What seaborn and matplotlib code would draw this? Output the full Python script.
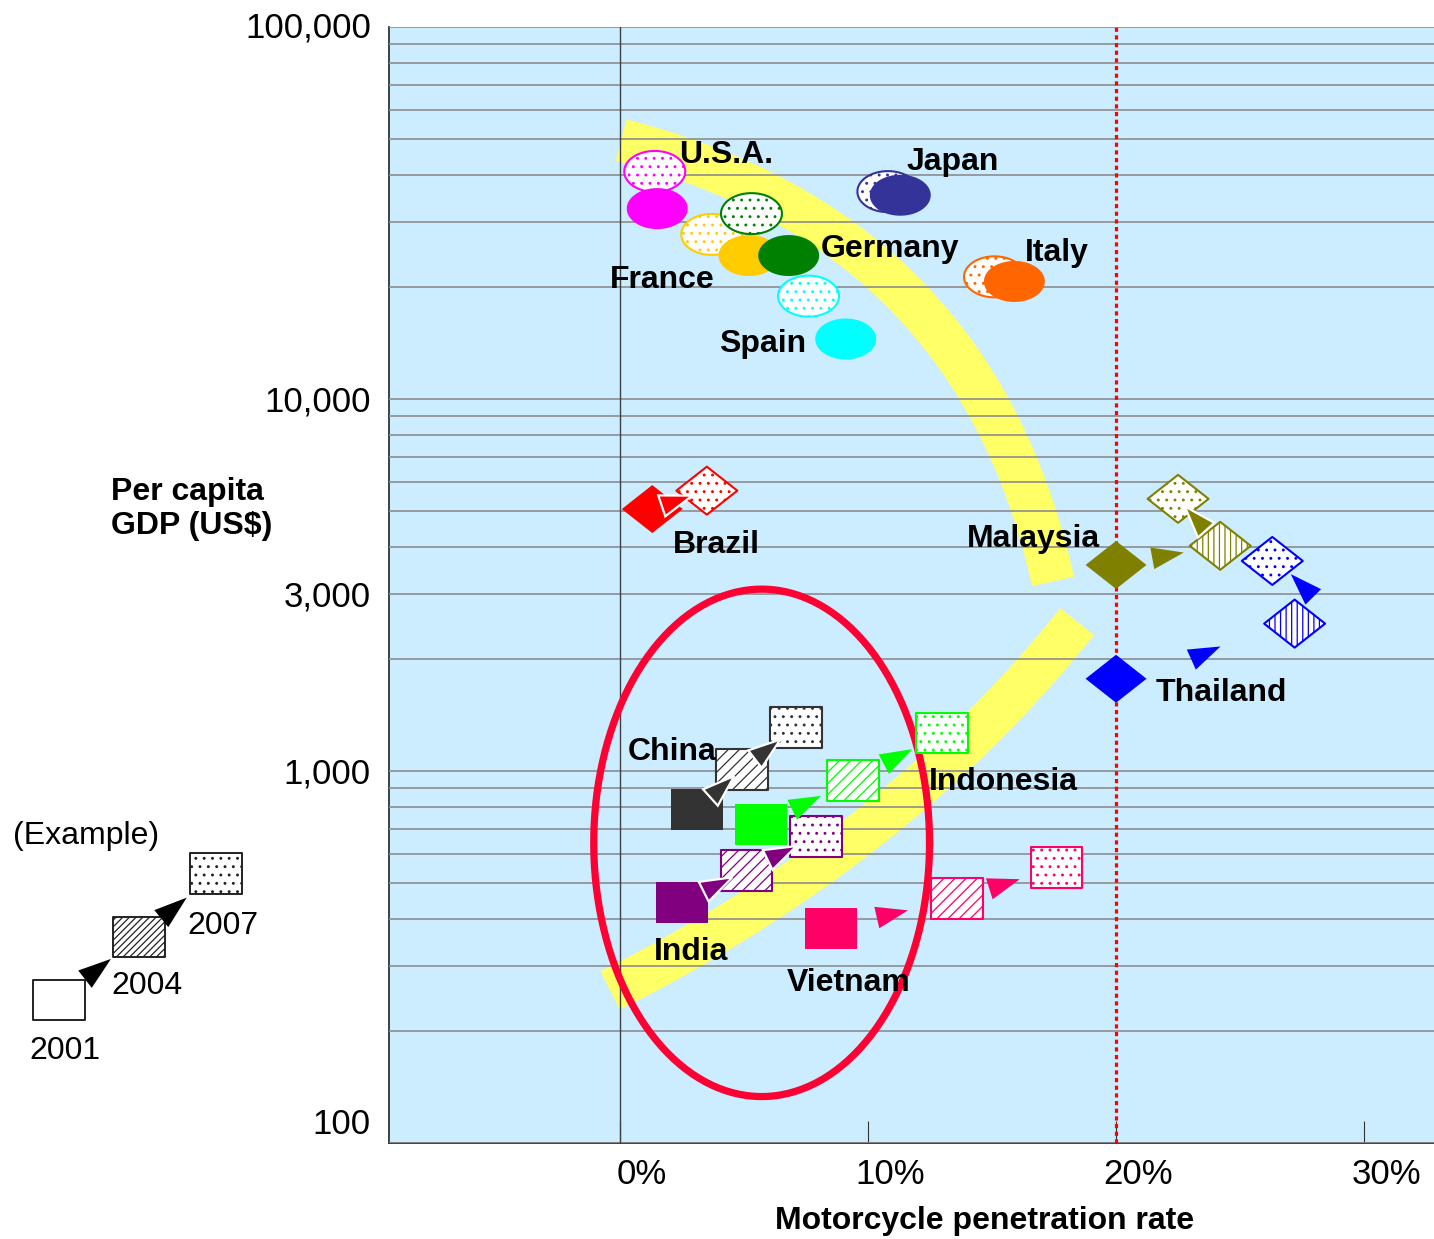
import numpy as np
import pandas as pd
import matplotlib
matplotlib.use("Agg")
import matplotlib.pyplot as plt
import matplotlib.ticker as mticker
import matplotlib.transforms as mtransforms
from matplotlib.path import Path
from matplotlib.patches import Polygon
import seaborn as sns

nan = np.nan

# ---------------- data ----------------
countries = ["U.S.A.", "France", "Germany", "Spain", "Japan", "Italy",
             "Brazil", "Malaysia", "Thailand",
             "China", "Indonesia", "India", "Vietnam"]
# motorcycle penetration rate (%)
pen_2001 = [1.5, 5.2, 6.8, 9.1, 11.3, 15.9, 1.3, 20.0, 20.0, 3.1, 5.7, 2.5, 8.5]
pen_2004 = [nan, nan, nan, nan, nan, nan, nan, 24.2, 27.2, 4.9, 9.4, 5.1, 13.6]
pen_2007 = [1.4, 3.7, 5.3, 7.6, 10.8, 15.1, 3.5, 22.5, 26.3, 7.1, 13.0, 7.9, 17.6]
# per capita GDP (US$)
gdp_2001 = [32500, 24300, 24300, 14500, 35300, 20700, 5060, 3580, 1770, 787, 718, 443, 378]
gdp_2004 = [nan, nan, nan, nan, nan, nan, nan, 4030, 2490, 1010, 943, 541, 453]
gdp_2007 = [40900, 27700, 31500, 18900, 36100, 21300, 5670, 5390, 3670, 1310, 1265, 666, 550]

years = ["2001", "2004", "2007"]

xtick_vals = [0, 10, 20, 30]
xtick_labels = ["0%", "10%", "20%", "30%"]
ytick_vals = [100, 1000, 3000, 10000, 100000]
ytick_labels = ["100", "1,000", "3,000", "10,000", "100,000"]

# guide bands (quadratic curves: start, control, end) and the highlighted group
band_upper_x = [0.04, 14.3, 17.46]
band_upper_gdp = [49600, 28540, 3232]
band_lower_x = [-0.40, 11.21, 18.43]
band_lower_gdp = [257, 628, 2521]
circle_center = (5.71, 641)
circle_halfwidth_pct = 6.77
circle_half_decades = 0.682

# ---------------- styling ----------------
colors = {"U.S.A.": "#FF00FF", "France": "#FFCC00", "Germany": "#008000",
          "Spain": "#00FFFF", "Japan": "#333399", "Italy": "#FF6600",
          "Brazil": "#FF0000", "Malaysia": "#808000", "Thailand": "#0000FF",
          "China": "#333333", "Indonesia": "#00FF00", "India": "#800080",
          "Vietnam": "#FF0066"}
shape_of = {c: "ellipse" for c in countries[:6]}
shape_of.update({c: "diamond" for c in ["Brazil", "Malaysia", "Thailand"]})
shape_of.update({c: "rect" for c in ["China", "Indonesia", "India", "Vietnam"]})

label_pos = {"U.S.A.": (2.38, 42990), "Japan": (11.57, 41170),
             "Germany": (8.10, 24140), "Italy": (16.33, 23550),
             "France": (-0.40, 19920), "Spain": (3.99, 13390),
             "Brazil": (2.14, 3845), "Malaysia": (13.99, 3991),
             "Thailand": (21.61, 1544), "China": (0.32, 1071),
             "Indonesia": (12.46, 889), "India": (1.37, 311),
             "Vietnam": (6.73, 257)}

# arrowhead per step: (fraction along the step, white rim, side shift px, turn deg)
arrow_spec = {"Brazil": [(0.73, True, 0, 0)],
              "Malaysia": [(0.65, False, 0, 0), (0.84, True, 0, 0)],
              "Thailand": [(0.585, False, 0, 7), (0.72, False, -13, 25)],
              "China": [(0.835, True, 0, 0), (0.71, True, 0, 0)],
              "Indonesia": [(0.65, False, 0, 0), (0.66, False, 0, 0)],
              "India": [(0.78, True, 0, 0), (0.72, True, 0, 0)],
              "Vietnam": [(0.61, False, 0, 0), (0.63, False, 0, 0)]}

plt.rcParams["font.family"] = ["Liberation Sans", "DejaVu Sans"]
plt.rcParams["hatch.linewidth"] = 0.9

DPI = 100
W, H = 1434, 1239


def marker_path(kind):
    if kind == "ellipse":
        t = np.linspace(0, 2 * np.pi, 72)
        v = np.column_stack([np.cos(t), 0.672 * np.sin(t)])
    elif kind == "diamond":
        v = np.array([[1, 0], [0, 0.787], [-1, 0], [0, -0.787], [1, 0]])
    else:
        v = np.array([[1, 0.788], [-1, 0.788], [-1, -0.788], [1, -0.788], [1, 0.788]])
    return Path(v, closed=True)


marker_size = {"ellipse": 43.9 ** 2, "diamond": 43.9 ** 2, "rect": 37.4 ** 2}


def year_style(year, color, kind):
    if year == "2001":
        return dict(color=color, edgecolor="none", linewidth=0, hatch=None)
    if year == "2004":
        return dict(color="white", edgecolor=color, linewidth=1.5,
                    hatch="|||" if kind == "diamond" else "///")
    return dict(color="white", edgecolor=color, linewidth=1.5, hatch="..")


def arrowhead(axis, p_from, p_to, frac, color, rim, shift=0.0, turn=0.0,
              length=32, half_base=11, z=6):
    a = axis.transData.transform(p_from)
    b = axis.transData.transform(p_to)
    d = b - a
    u = d / np.hypot(*d)
    n = np.array([-u[1], u[0]])
    tip = a + frac * d + shift * n
    ang = np.deg2rad(turn)
    rot = np.array([[np.cos(ang), -np.sin(ang)], [np.sin(ang), np.cos(ang)]])
    u = rot @ u
    n = np.array([-u[1], u[0]])
    base = tip - length * u
    tri = np.array([tip, base + half_base * n, base - half_base * n])
    tri_data = axis.transData.inverted().transform(tri)
    axis.add_patch(Polygon(tri_data, closed=True, facecolor=color,
                           edgecolor="white" if rim else "none",
                           linewidth=1.6 if rim else 0, zorder=z,
                           joinstyle="miter"))


def bezier(xs, ys, n=120):
    t = np.linspace(0, 1, n)
    p0, c, p2 = (np.array([xs[i], np.log10(ys[i])]) for i in range(3))
    pts = ((1 - t) ** 2)[:, None] * p0 + (2 * t * (1 - t))[:, None] * c + (t ** 2)[:, None] * p2
    return pts[:, 0], 10 ** pts[:, 1]


# ---------------- figure ----------------
fig = plt.figure(figsize=(W / DPI, H / DPI), dpi=DPI)
ax = fig.add_axes([389 / W, (H - 1143) / H, 1045 / W, 1116 / H])
ax.set_facecolor("#CCECFF")
ax.set_yscale("log")
ax.set_xlim(-9.315, 32.82)
ax.set_ylim(100, 100000)
ax.set_axisbelow(False)

# grid on every log step
ax.yaxis.set_minor_locator(mticker.LogLocator(base=10, subs=np.arange(2, 10)))
ax.yaxis.set_minor_formatter(mticker.NullFormatter())
ax.grid(True, axis="y", which="both", color="#8c8c8c", linewidth=1.2)
ax.grid(False, axis="x")

ax.set_yticks(ytick_vals, labels=ytick_labels)
ax.tick_params(axis="y", which="both", length=0, pad=13, labelsize=25)
ax.set_xticks(xtick_vals, labels=xtick_labels)
ax.tick_params(axis="x", direction="in", length=16, width=0.8, color="#333333",
               pad=11, labelsize=25)
for lab in ax.get_xticklabels():
    lab.set_transform(lab.get_transform() +
                      mtransforms.ScaledTranslation(0.22, 0, fig.dpi_scale_trans))
for lab in ax.get_yticklabels():
    if lab.get_text() == "100":
        lab.set_transform(lab.get_transform() +
                          mtransforms.ScaledTranslation(0, 0.22, fig.dpi_scale_trans))
    if lab.get_text() == "100,000":
        lab.set_transform(lab.get_transform() +
                          mtransforms.ScaledTranslation(0, 0.03, fig.dpi_scale_trans))

for side in ["top", "right"]:
    ax.spines[side].set_visible(False)
for side in ["left", "bottom"]:
    ax.spines[side].set_color("#333333")
    ax.spines[side].set_linewidth(1.3)

# guide bands
for bx, by in [(band_upper_x, band_upper_gdp), (band_lower_x, band_lower_gdp)]:
    cx, cy = bezier(bx, by)
    ax.plot(cx, cy, color="#FFFF66", linewidth=31, solid_capstyle="butt", zorder=1)

ax.axvline(0, color="#404040", linewidth=1.0, zorder=2.6)
ax.axvline(20, color="#FF0000", linewidth=2.3, linestyle=(0, (1.3, 1.1)), zorder=2.7)

# highlighted group of emerging markets
t = np.linspace(0, 2 * np.pi, 300)
ex = circle_center[0] + circle_halfwidth_pct * np.cos(t)
ey = 10 ** (np.log10(circle_center[1]) + circle_half_decades * np.sin(t))
ax.plot(ex, ey, color="#FF0033", linewidth=5.2, zorder=3)

# long table of observations
rows = []
for i, c in enumerate(countries):
    for yr, px, gv in zip(years, [pen_2001, pen_2004, pen_2007],
                          [gdp_2001, gdp_2004, gdp_2007]):
        if not np.isnan(px[i]):
            rows.append(dict(country=c, year=yr, pen=px[i], gdp=gv[i]))
df = pd.DataFrame(rows)

draw_order = ["2007", "2004", "2001"]
for c in countries:
    kind = shape_of[c]
    sub = df[df.country == c]
    for yr in draw_order:
        pt = sub[sub.year == yr]
        if pt.empty:
            continue
        st = year_style(yr, colors[c], kind)
        sns.scatterplot(data=pt, x="pen", y="gdp", ax=ax, marker=marker_path(kind),
                        s=marker_size[kind], legend=False, zorder=4, **st)

ax.set_xlim(-9.315, 32.82)
ax.set_ylim(100, 100000)

# arrows showing the move 2001 -> 2004 -> 2007
for c, specs in arrow_spec.items():
    sub = df[df.country == c].set_index("year").reindex(years).dropna()
    pts = list(zip(sub.pen, sub.gdp))
    for k in range(len(pts) - 1):
        frac, rim, shift, turn = specs[k]
        arrowhead(ax, pts[k], pts[k + 1], frac, colors[c], rim, shift, turn)

for c in countries:
    x, y = label_pos[c]
    ax.text(x, y, c, fontsize=23, fontweight="bold", ha="left", va="baseline", zorder=7)

ax.set_xlabel("Motorcycle penetration rate", fontsize=23, fontweight="bold", va="center")
ax.xaxis.set_label_coords(0.570, -0.0699)
ax.set_ylabel("Per capita\nGDP (US$)", fontsize=23, fontweight="bold", rotation=0,
              ha="left", va="center", multialignment="left", linespacing=1.15)
ax.yaxis.set_label_coords(-0.266, 0.568)

# ---------------- key ----------------
key_x = [59, 139, 216]
key_y = [999.5, 937, 873.5]
key_label_xy = [(65, 1051), (147, 986), (223, 926)]
key_arrow_frac = [0.65, 0.62]

kax = fig.add_axes([0, 0, 385 / W, 1])
kax.set_xlim(0, 385)
kax.set_ylim(H, 0)
kax.axis("off")
key_df = pd.DataFrame(dict(year=years, x=key_x, y=key_y))
key_hatch = {"2001": None, "2004": "/////", "2007": ".."}
for _, r in key_df.iterrows():
    sns.scatterplot(x=[r.x], y=[r.y], ax=kax, marker=marker_path("rect"),
                    s=marker_size["rect"], color="white", edgecolor="#222222",
                    linewidth=1.4, hatch=key_hatch[r.year], legend=False, zorder=4)
kax.set_xlim(0, 385)
kax.set_ylim(H, 0)
for k in range(2):
    arrowhead(kax, (key_x[k], key_y[k]), (key_x[k + 1], key_y[k + 1]),
              key_arrow_frac[k], "black", False, length=33, half_base=11)
for yr, (lx, ly) in zip(years, key_label_xy):
    kax.text(lx, ly, yr, fontsize=23, ha="center", va="center")
kax.text(86, 836, "(Example)", fontsize=23, ha="center", va="center")

fig.savefig("out.png", dpi=DPI)
